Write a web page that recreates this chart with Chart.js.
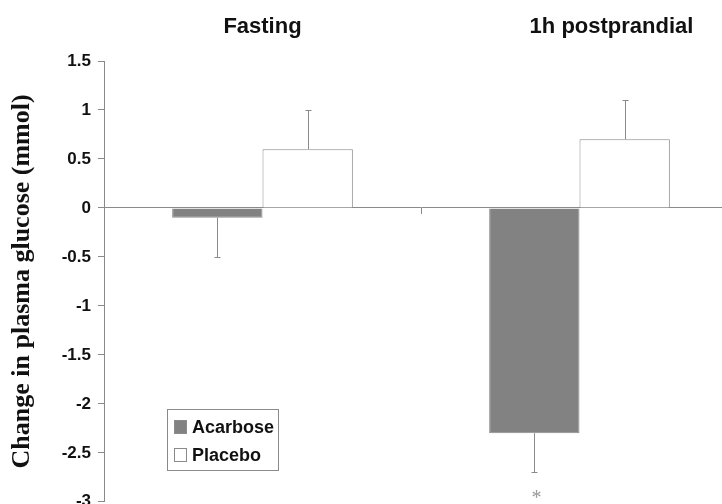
<!DOCTYPE html>
<html>
<head>
<meta charset="utf-8">
<script src="https://cdn.jsdelivr.net/npm/chart.js@4"></script>
<style>
  html, body { margin: 0; padding: 0; background: #fff; overflow: hidden; }
  #wrap { position: relative; width: 740px; height: 519px; }
</style>
</head>
<body>
<div id="wrap"><canvas id="glucoseChart" width="740" height="519"></canvas></div>
<script>
// chart data
const categories = ["Fasting", "1h postprandial"];
const acarbose = [-0.1, -2.3];
const placebo = [0.6, 0.7];
const acarboseErr = [0.4, 0.4];
const placeboErr = [0.4, 0.4];
const acarboseMarks = ["", "*"];
const yMin = -3;
const yMax = 1.5;
const yStep = 0.5;

const axisGray = "#8a8a8a";

// error bars (one-sided, away from zero) + significance marks
const errorBars = {
  id: "errorBars",
  afterDatasetsDraw(chart) {
    const ctx = chart.ctx;
    const y = chart.scales.y;
    ctx.save();
    ctx.strokeStyle = axisGray;
    ctx.lineWidth = 1;
    chart.data.datasets.forEach((ds, i) => {
      const meta = chart.getDatasetMeta(i);
      meta.data.forEach((bar, j) => {
        const v = ds.data[j];
        const e = ds.errors[j];
        const end = v >= 0 ? v + e : v - e;
        const x = Math.round(bar.x) + 0.5;
        const y0 = y.getPixelForValue(v);
        const y1 = Math.round(y.getPixelForValue(end)) + 0.5;
        ctx.beginPath();
        ctx.moveTo(x, y0);
        ctx.lineTo(x, y1);
        ctx.moveTo(x - 3, y1);
        ctx.lineTo(x + 3, y1);
        ctx.stroke();
        if (ds.marks && ds.marks[j]) {
          ctx.fillStyle = "#999";
          ctx.font = "20px 'Liberation Serif'";
          ctx.textAlign = "center";
          ctx.textBaseline = "middle";
          ctx.fillText(ds.marks[j], x + 2, y1 + 26);
        }
      });
    });
    ctx.restore();
  }
};

// group titles above the plot
const groupTitles = {
  id: "groupTitles",
  afterDraw(chart) {
    const ctx = chart.ctx;
    const x = chart.scales.x;
    const shift = [0, 32];
    ctx.save();
    ctx.fillStyle = "#111";
    ctx.font = "bold 22px 'Liberation Sans', Arial, sans-serif";
    ctx.textAlign = "center";
    ctx.textBaseline = "middle";
    categories.forEach((c, i) => {
      ctx.fillText(c, x.getPixelForValue(i) + shift[i], 27);
    });
    ctx.restore();
  }
};

// boxed legend inside the plot
const boxLegend = {
  id: "boxLegend",
  afterDraw(chart) {
    const ctx = chart.ctx;
    const left = 167, top = 409, w = 111, h = 61;
    ctx.save();
    ctx.strokeStyle = axisGray;
    ctx.lineWidth = 1;
    ctx.fillStyle = "#fff";
    ctx.fillRect(left + 0.5, top + 0.5, w, h);
    ctx.strokeRect(left + 0.5, top + 0.5, w, h);
    ctx.font = "bold 18px 'Liberation Sans', Arial, sans-serif";
    ctx.textBaseline = "middle";
    chart.data.datasets.forEach((ds, i) => {
      const cy = top + 18 + i * 28;
      ctx.fillStyle = ds.backgroundColor;
      ctx.fillRect(left + 7.5, cy - 6.5, 12, 13);
      ctx.strokeStyle = ds.borderColor;
      ctx.strokeRect(left + 7.5, cy - 6.5, 12, 13);
      ctx.fillStyle = "#111";
      ctx.fillText(ds.label, left + 25, cy + 1);
    });
    ctx.restore();
  }
};

new Chart(document.getElementById("glucoseChart"), {
  type: "bar",
  data: {
    labels: categories,
    datasets: [
      {
        label: "Acarbose",
        data: acarbose,
        errors: acarboseErr,
        marks: acarboseMarks,
        backgroundColor: "#828282",
        borderColor: "#8c8c8c",
        borderWidth: 1
      },
      {
        label: "Placebo",
        data: placebo,
        errors: placeboErr,
        backgroundColor: "#ffffff",
        borderColor: axisGray,
        borderWidth: 1
      }
    ]
  },
  options: {
    responsive: false,
    animation: false,
    layout: { padding: { top: 61, right: 2, bottom: 12, left: 0 } },
    plugins: {
      legend: { display: false },
      tooltip: { enabled: false }
    },
    datasets: {
      bar: { categoryPercentage: 0.57, barPercentage: 1.0 }
    },
    scales: {
      x: {
        position: { y: 0 },
        grid: { drawOnChartArea: false, drawTicks: true, tickLength: 6, color: axisGray },
        border: { color: axisGray },
        ticks: { display: false }
      },
      y: {
        min: yMin,
        max: yMax,
        afterFit(scale) { scale.width = 104; },
        ticks: {
          stepSize: yStep,
          color: "#111",
          padding: 7,
          font: { family: "'Liberation Sans', Arial, sans-serif", size: 17, weight: "bold" },
          callback: v => String(v)
        },
        grid: { drawOnChartArea: false, drawTicks: true, tickLength: 6, color: axisGray },
        border: { color: axisGray },
        title: {
          display: true,
          text: "Change in plasma glucose (mmol)",
          color: "#111",
          padding: { top: 7, bottom: 8 },
          font: { family: "'Liberation Serif', 'Times New Roman', serif", size: 26, weight: "bold" }
        }
      }
    }
  },
  plugins: [errorBars, groupTitles, boxLegend]
});
</script>
</body>
</html>
